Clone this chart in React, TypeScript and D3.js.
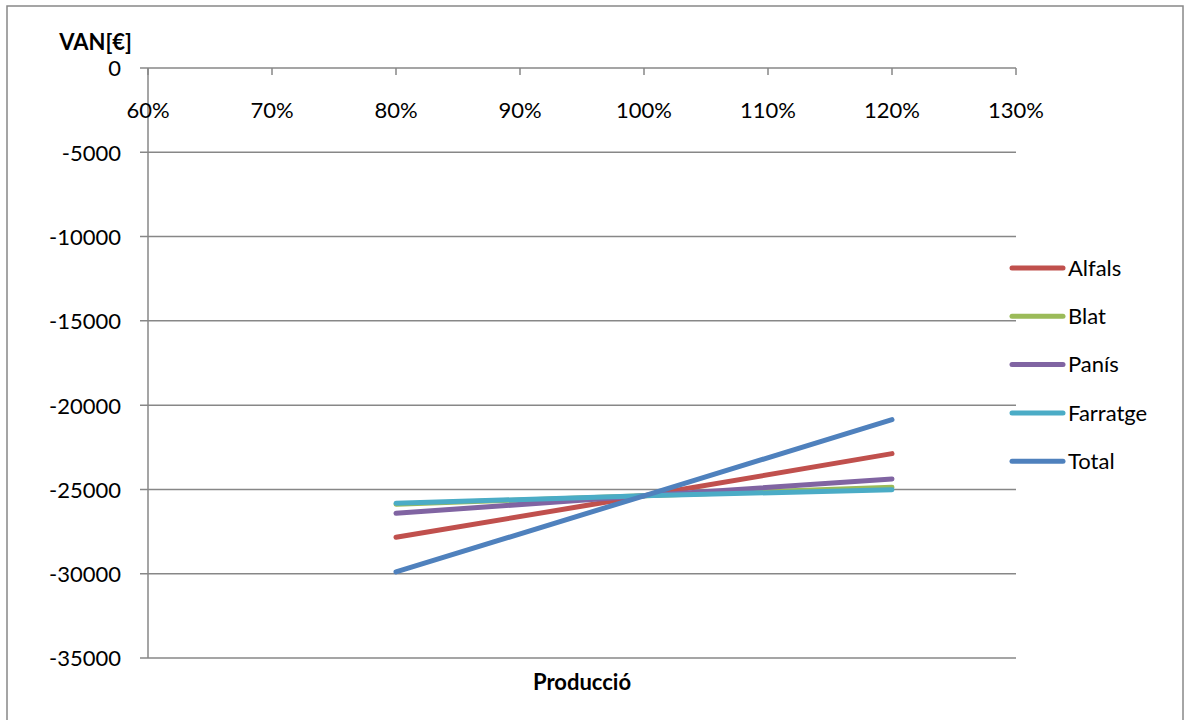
import React from "react";
import * as d3 from "d3";

const xValues = [0.8, 1.0, 1.2];
const seriesNames = ["Alfals", "Blat", "Panís", "Farratge", "Total"];
const alfals = [-27835, -25380, -22877];
const blat = [-25878, -25380, -24870];
const panis = [-26412, -25380, -24377];
const farratge = [-25818, -25380, -25012];
const total = [-29893, -25380, -20860];
const seriesColors = ["#C0504D", "#9BBB59", "#8064A2", "#4BACC6", "#4F81BD"];
const xTicks = [0.6, 0.7, 0.8, 0.9, 1.0, 1.1, 1.2, 1.3];
const yTicks = [0, -5000, -10000, -15000, -20000, -25000, -30000, -35000];

const FONT = "Lato, 'Open Sans', sans-serif";

export default function App() {
  const W = 1186, H = 720;
  const x = d3.scaleLinear().domain([0.6, 1.3]).range([148, 1016]);
  const y = d3.scaleLinear().domain([0, -35000]).range([68, 658]);
  const allSeries = [alfals, blat, panis, farratge, total];
  const line = d3.line<number>().x((_, i) => x(xValues[i])).y((d) => y(d));
  const axisColor = "#878787";
  const fs = 22;
  return (
    <div style={{ position: "absolute", left: 0, top: 0, width: W, height: H, overflow: "hidden" }}>
      <svg width={W} height={H} style={{ display: "block", background: "#fff" }} fontFamily={FONT}>
        <rect x={7} y={6} width={1176} height={740} fill="#fff" stroke="#888" strokeWidth={1.5} />
        {yTicks.map((t) => (
          <g key={t}>
            <line x1={140} x2={1016} y1={y(t)} y2={y(t)} stroke={axisColor} strokeWidth={1.5} />
            <text x={121} y={y(t)} dy="0.38em" textAnchor="end" fontSize={fs} fill="#000">
              {t}
            </text>
          </g>
        ))}
        <line x1={148} x2={148} y1={68} y2={658} stroke={axisColor} strokeWidth={1.5} />
        {xTicks.map((t) => (
          <g key={t}>
            <line x1={x(t)} x2={x(t)} y1={68} y2={75} stroke={axisColor} strokeWidth={1.5} />
            <text x={x(t)} y={118} textAnchor="middle" fontSize={fs} fill="#000">
              {d3.format(".0%")(t)}
            </text>
          </g>
        ))}
        {allSeries.map((s, i) => (
          <path key={i} d={line(s) || ""} fill="none" stroke={seriesColors[i]} strokeWidth={5} strokeLinecap="round" strokeLinejoin="round" />
        ))}
        {seriesNames.map((n, i) => (
          <g key={n}>
            <line x1={1012} x2={1063} y1={268 + i * 48.3} y2={268 + i * 48.3} stroke={seriesColors[i]} strokeWidth={5} strokeLinecap="round" />
            <text x={1068} y={268 + i * 48.3} dy="0.35em" fontSize={fs} fill="#000">
              {n}
            </text>
          </g>
        ))}
        <text x={132} y={50} textAnchor="end" fontSize={fs} fontWeight="bold" fill="#000">VAN[€]</text>
        <text x={582} y={690} textAnchor="middle" fontSize={fs} fontWeight="bold" fill="#000">Producció</text>
      </svg>
    </div>
  );
}
